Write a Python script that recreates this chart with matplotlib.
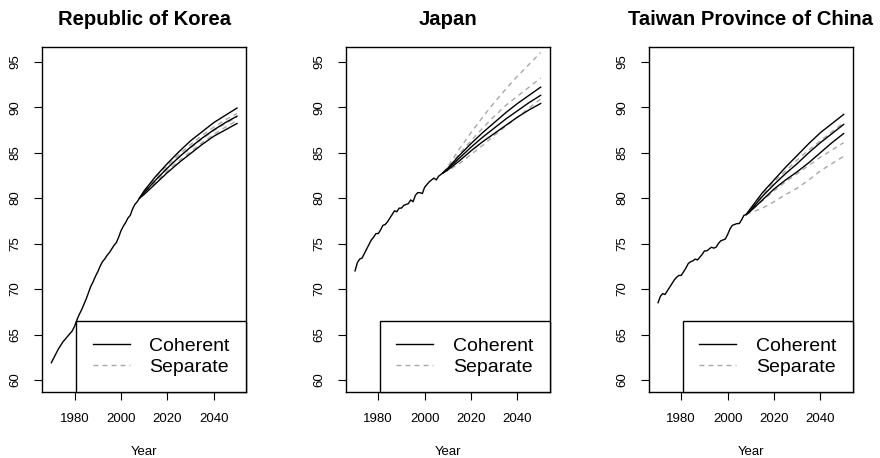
import numpy as np
import matplotlib
matplotlib.use('Agg')
import matplotlib.pyplot as plt

plt.rcParams['font.family'] = ['Liberation Sans', 'DejaVu Sans']

hist_years = np.arange(1970, 2009)
fc_years = [2008, 2010, 2015, 2020, 2025, 2030, 2035, 2040, 2045, 2050]

titles = ['Republic of Korea', 'Japan', 'Taiwan Province of China']

korea_hist = [61.9, 62.4, 62.9, 63.4, 63.8, 64.2, 64.5, 64.8, 65.1, 65.4,
              65.9, 66.6, 67.2, 67.7, 68.3, 68.9, 69.6, 70.3, 70.8, 71.4,
              71.9, 72.5, 73.0, 73.3, 73.7, 74.0, 74.4, 74.8, 75.1, 75.7,
              76.4, 76.9, 77.3, 77.8, 78.1, 78.8, 79.3, 79.6, 80.0]
japan_hist = [72.0, 72.9, 73.3, 73.4, 73.9, 74.4, 74.9, 75.4, 75.7, 76.1,
              76.1, 76.5, 77.0, 77.1, 77.4, 77.8, 78.2, 78.6, 78.5, 78.9,
              78.9, 79.2, 79.3, 79.4, 79.8, 79.6, 80.3, 80.6, 80.6, 80.5,
              81.2, 81.5, 81.8, 82.0, 82.2, 82.0, 82.4, 82.6, 82.8]
taiwan_hist = [68.5, 69.2, 69.5, 69.4, 69.8, 70.2, 70.6, 71.0, 71.3, 71.5,
               71.5, 71.9, 72.3, 72.8, 73.0, 73.1, 73.3, 73.2, 73.5, 73.8,
               74.2, 74.2, 74.4, 74.6, 74.5, 74.6, 75.0, 75.3, 75.4, 75.5,
               76.0, 76.6, 77.0, 77.1, 77.2, 77.2, 77.6, 78.1, 78.2]

# coherent forecasts (upper, middle, lower)
korea_coh = [[80.0, 80.8, 82.4, 83.8, 85.1, 86.3, 87.3, 88.3, 89.1, 89.9],
             [80.0, 80.6, 82.0, 83.3, 84.5, 85.6, 86.6, 87.5, 88.3, 89.0],
             [80.0, 80.4, 81.6, 82.8, 83.9, 84.9, 85.9, 86.8, 87.5, 88.2]]
japan_coh = [[82.8, 83.3, 84.7, 86.0, 87.2, 88.3, 89.4, 90.4, 91.3, 92.2],
             [82.8, 83.2, 84.4, 85.6, 86.7, 87.7, 88.7, 89.6, 90.5, 91.3],
             [82.8, 83.1, 84.1, 85.2, 86.2, 87.1, 88.0, 88.9, 89.7, 90.4]]
taiwan_coh = [[78.2, 78.9, 80.6, 82.0, 83.4, 84.7, 86.0, 87.2, 88.2, 89.2],
              [78.2, 78.7, 80.2, 81.5, 82.7, 83.8, 85.0, 86.1, 87.1, 88.1],
              [78.2, 78.6, 79.8, 81.0, 82.0, 82.9, 83.9, 85.0, 86.1, 87.1]]

# separate forecasts
korea_sep = [[80.0, 80.8, 82.3, 83.6, 84.8, 85.9, 86.9, 87.8, 88.6, 89.3],
             [80.0, 80.6, 82.0, 83.3, 84.5, 85.5, 86.5, 87.4, 88.2, 88.9],
             [80.0, 80.5, 81.8, 83.0, 84.1, 85.1, 86.1, 87.0, 87.8, 88.5]]
japan_sep = [[82.8, 83.5, 85.4, 87.2, 88.9, 90.5, 92.0, 93.4, 94.7, 96.0],
             [82.8, 83.3, 84.9, 86.3, 87.7, 89.0, 90.2, 91.2, 92.2, 93.2],
             [82.8, 83.0, 83.8, 84.8, 85.8, 86.9, 87.9, 88.9, 89.9, 90.9]]
taiwan_sep = [[78.2, 78.8, 80.4, 81.8, 83.0, 84.2, 85.3, 86.3, 87.3, 88.3],
              [78.2, 78.6, 79.7, 80.8, 81.8, 82.7, 83.6, 84.5, 85.3, 86.1],
              [78.2, 78.4, 78.9, 79.6, 80.4, 81.1, 82.0, 83.0, 83.8, 84.6]]

hists = [korea_hist, japan_hist, taiwan_hist]
cohs = [korea_coh, japan_coh, taiwan_coh]
seps = [korea_sep, japan_sep, taiwan_sep]

gray = '#a8a8a8'
fig = plt.figure(figsize=(8.8, 4.58), dpi=100)
lefts = [42.3 / 880, 346 / 880, 649 / 880]

for i in range(3):
    ax = fig.add_axes([lefts[i], 1 - 392.3 / 458, 203.7 / 880, 345 / 458])
    for s in seps[i]:
        ax.plot(fc_years, s, color=gray, lw=1.0, dashes=(3.5, 3))
    for c in cohs[i]:
        ax.plot(fc_years, c, color='black', lw=1.0)
    ax.plot(hist_years, hists[i], color='black', lw=1.0)
    ax.set_xlim(1966.1, 2053.9)
    ax.set_ylim(58.65, 96.58)
    ax.set_xticks([1980, 2000, 2020, 2040])
    ax.set_yticks(np.arange(60, 96, 5))
    ax.tick_params(direction='out', length=6, width=0.8, labelsize=9.5, pad=9)
    for lab in ax.get_yticklabels():
        lab.set_rotation(90)
        lab.set_va('center')
    for sp in ax.spines.values():
        sp.set_linewidth(1.0)
    ax.set_title(titles[i], fontsize=14.6, fontweight='bold', pad=16)
    ax.set_xlabel('Year', fontsize=9.5, labelpad=15)
    ax.plot([], [], color='black', lw=1.0, label='Coherent')
    ax.plot([], [], color=gray, lw=1.0, dashes=(3.5, 3), label='Separate')
    h, l = ax.get_legend_handles_labels()
    leg = ax.legend(h[-2:], l[-2:], loc='lower right', fontsize=14, frameon=True,
                    fancybox=False, framealpha=1, edgecolor='black', borderaxespad=0,
                    borderpad=0.85, labelspacing=0.18, handlelength=1.9, handletextpad=1.0)
    leg.get_frame().set_linewidth(1.0)

plt.savefig('out.png', dpi=100)
